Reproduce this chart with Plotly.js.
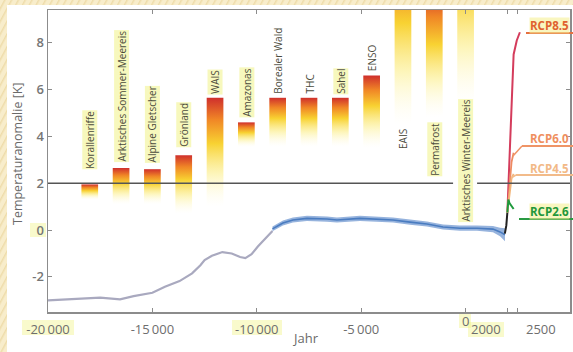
<!DOCTYPE html>
<html><head><meta charset="utf-8">
<script src="https://cdn.plot.ly/plotly-3.0.1.min.js"></script>
<style>
html,body{margin:0;padding:0;width:573px;height:352px;overflow:hidden;
background:repeating-linear-gradient(118deg,#f8edcb 0px,#f8edcb 3px,#eedcaa 4px,#f8edcb 6px);}
#chart{position:absolute;left:7px;top:5px;width:566px;height:347px;}
</style></head><body><div id="chart"></div>
<script>
// ---------- data ----------
const tipNames = ["Korallenriffe","Arktisches Sommer-Meereis","Alpine Gletscher","Grönland","WAIS","Amazonas","Borealer Wald","THC","Sahel","ENSO","EAIS","Permafrost","Arktisches Winter-Meereis"];
const tipYears = [-18000,-16500,-15000,-13500,-12000,-10500,-9000,-7500,-6000,-4500,-3000,-1500,0];
const tipLow   = [1.3,1.1,1.1,0.7,1.0,3.55,3.55,3.55,3.55,3.5,4.5,4.8,5.3];
const tipHigh  = [1.95,2.65,2.6,3.2,5.65,4.6,5.65,5.65,5.65,6.6,10,10,10];

const shakunYears = [-20000,-17500,-16550,-15900,-15000,-14400,-13700,-13100,-12700,-12500,-12150,-11650,-11200,-10800,-10550,-10250,-9950,-9600,-9250];
const shakunTemp  = [-3.0,-2.89,-2.96,-2.82,-2.68,-2.42,-2.18,-1.85,-1.5,-1.28,-1.1,-0.94,-1.0,-1.15,-1.2,-1.03,-0.7,-0.38,-0.04];

const marcottYears = [-9250,-8750,-8270,-7600,-6640,-6160,-5060,-4240,-3480,-2660,-1850,-1080,-270,545,1310,1650,1885];
const marcottTemp  = [0.05,0.3,0.43,0.5,0.47,0.43,0.5,0.47,0.43,0.34,0.26,0.13,0.08,0.08,0.04,-0.08,-0.2];
const marcottUnc   = [0.1,0.11,0.11,0.11,0.11,0.11,0.11,0.11,0.11,0.11,0.11,0.11,0.11,0.11,0.13,0.18,0.28];

const instrYears = [1880,1950,2000];
const instrTemp  = [-0.15,0.2,0.75];

const rcp26Years = [2000,2050,2100,2200,2300];
const rcp26Temp  = [0.75,1.3,1.15,1.0,0.9];
const rcp45Years = [2000,2100,2200,2300];
const rcp45Temp  = [0.75,1.6,2.2,2.4];
const rcp60Years = [2000,2100,2200,2300];
const rcp60Temp  = [0.75,2.0,2.9,3.3];
const rcp85Years = [2000,2100,2200,2300,2450,2600];
const rcp85Temp  = [0.75,3.0,5.5,7.5,8.1,8.45];

const targetLine = 2;
const xTickVals = [-20000,-15000,-10000,-5000,0,2000,2500];
const xTickText = ["-20\u2009000","-15\u2009000","-10\u2009000","-5\u2009000","","",""];
const yTickVals = [-2,0,2,4,6,8];

// ---------- styles / positions ----------
const barWidth = 800;
const gradTop = [null,null,null,null,null,null,null,null,null,null,12,10.2,13.5];
const labelBottomPx = [170,163,163,148,95,118,95,95,95,72,150,177,223];
const labelGlow = [true,true,true,true,true,true,false,false,true,false,false,true,true];
const PL=48, PR=570, PT=10, PB=312;
const px = v => (v-PL)/(PR-PL);
const py = v => (PB-v)/(PB-PT);
const scale = [[0,'rgba(255,252,225,0)'],[0.3,'rgba(252,240,150,0.65)'],[0.58,'#f8d232'],[0.8,'#f08626'],[1,'#cf2f2c']];
const tickFont = {family:'Open Sans',size:13,color:'#6e6e6e'};

const traces = [];
tipYears.forEach((c,i)=>{
  const lo = tipLow[i], hi = tipHigh[i];
  traces.push({type:'scatter',mode:'lines',
    x:[c-barWidth/2,c+barWidth/2,c+barWidth/2,c-barWidth/2,c-barWidth/2],
    y:[lo,lo,hi,hi,lo],
    line:{width:0,color:'rgba(0,0,0,0)'},fill:'toself',
    fillgradient:{type:'vertical',colorscale:scale,start:lo,stop:(gradTop[i]===null?hi:gradTop[i])},
    hoverinfo:'skip'});
});
traces.push({type:'scatter',mode:'lines',x:shakunYears,y:shakunTemp,line:{color:'#a9a9bf',width:2.2}});
traces.push({type:'scatter',mode:'lines',x:marcottYears,y:marcottTemp.map((v,i)=>v-marcottUnc[i]),line:{width:0,color:'rgba(0,0,0,0)'}});
traces.push({type:'scatter',mode:'lines',x:marcottYears,y:marcottTemp.map((v,i)=>v+marcottUnc[i]),line:{width:0,color:'rgba(0,0,0,0)'},fill:'tonexty',fillcolor:'rgba(115,154,210,0.75)'});
traces.push({type:'scatter',mode:'lines',x:marcottYears,y:marcottTemp,line:{color:'#4a7cc0',width:1.6}});
traces.push({type:'scatter',mode:'lines',x:instrYears,y:instrTemp,line:{color:'#222222',width:2}});
traces.push({type:'scatter',mode:'lines',x:rcp85Years,y:rcp85Temp,line:{color:'#d43c5c',width:2}});
traces.push({type:'scatter',mode:'lines',x:rcp60Years,y:rcp60Temp,line:{color:'#ee8a62',width:1.8}});
traces.push({type:'scatter',mode:'lines',x:rcp45Years,y:rcp45Temp,line:{color:'#f2b57a',width:1.8}});
traces.push({type:'scatter',mode:'lines',x:rcp26Years,y:rcp26Temp,line:{color:'#1f9a3d',width:2}});

const ann = [];
tipNames.forEach((n,i)=>{
  ann.push({text:n,x:tipYears[i],xref:'x',y:py(labelBottomPx[i]),yref:'paper',
    textangle:-90,xanchor:'center',yanchor:'bottom',showarrow:false,
    font:{family:'Open Sans',size:10,color:'#4b4b3c'},
    bgcolor:labelGlow[i]?'rgba(240,243,135,0.55)':'rgba(0,0,0,0)',borderpad:0});
});
const rcpLab = [
  {t:'RCP8.5',y:25,c:'#e0622f',g:true},
  {t:'RCP6.0',y:138,c:'#ef8f60',g:false},
  {t:'RCP4.5',y:168,c:'#f2b987',g:false},
  {t:'RCP2.6',y:211,c:'#22973a',g:true}];
rcpLab.forEach(r=>ann.push({text:'<b>'+r.t+'</b>',x:px(549),y:py(r.y),xref:'paper',yref:'paper',
  showarrow:false,xanchor:'center',yanchor:'middle',font:{family:'Open Sans',size:11.5,color:r.c},
  bgcolor:r.g?'rgba(245,240,150,0.6)':'rgba(0,0,0,0)',borderpad:0}));
const extraX = [{t:'0',x:465,y:321},{t:'2000',x:486,y:329},{t:'2500',x:541,y:329}];
extraX.forEach(e=>ann.push({text:e.t,x:px(e.x),y:py(e.y),xref:'paper',yref:'paper',showarrow:false,xanchor:'center',yanchor:'middle',font:tickFont}));
ann.push({text:'Temperaturanomalie [K]',x:px(17),y:py(154),xref:'paper',yref:'paper',showarrow:false,textangle:-90,xanchor:'center',yanchor:'middle',font:{family:'Open Sans',size:12.5,color:'#6a6a6a'}});
ann.push({text:'Jahr',x:px(305),y:py(338),xref:'paper',yref:'paper',showarrow:false,xanchor:'center',yanchor:'middle',font:{family:'Open Sans',size:13,color:'#6a6a6a'}});

const shapes = [
  {type:'line',xref:'x',yref:'y',x0:-20000,x1:-600,y0:targetLine,y1:targetLine,line:{color:'#555555',width:1.5}},
  {type:'line',xref:'x',yref:'y',x0:550,x1:5000,y0:targetLine,y1:targetLine,line:{color:'#555555',width:1.5}},
  {type:'line',xref:'paper',yref:'paper',x0:px(526),x1:px(573),y0:py(33),y1:py(33),line:{color:'#e57040',width:2}},
  {type:'line',xref:'paper',yref:'paper',x0:px(522),x1:px(573),y0:py(146),y1:py(146),line:{color:'#ef9466',width:2}},
  {type:'line',xref:'paper',yref:'paper',x0:px(513),x1:px(522),y0:py(156),y1:py(146),line:{color:'#ef9466',width:1.5}},
  {type:'line',xref:'paper',yref:'paper',x0:px(516),x1:px(573),y0:py(175),y1:py(175),line:{color:'#f2bb8a',width:2}},
  {type:'line',xref:'paper',yref:'paper',x0:px(511),x1:px(516),y0:py(178),y1:py(175),line:{color:'#f2bb8a',width:1.5}},
  {type:'line',xref:'paper',yref:'paper',x0:px(519),x1:px(573),y0:py(219),y1:py(219),line:{color:'#2a9a42',width:2}},
];
[[22,74,320,335],[232,282,320,335],[459,471,314,328],[468,504,322,337],[30,46,223,237]].forEach(r=>shapes.push(
  {type:'rect',xref:'paper',yref:'paper',x0:px(r[0]),x1:px(r[1]),y0:py(r[3]),y1:py(r[2]),fillcolor:'rgba(238,240,110,0.35)',line:{width:0},layer:'below'}));

const axCommon = {showline:true,linecolor:'#8c8c8c',linewidth:1.5,mirror:'ticks',ticks:'inside',ticklen:4,tickcolor:'#8c8c8c',
  showgrid:false,zeroline:false,tickfont:tickFont};
const layout = {
  width:566,height:347,margin:{l:PL-7,r:573-PR,t:PT-5,b:347-(PB-5)},
  paper_bgcolor:'#ffffff',plot_bgcolor:'#ffffff',showlegend:false,hovermode:false,
  xaxis:Object.assign({},axCommon,{range:[-20000,5000],tickmode:'array',tickvals:xTickVals,ticktext:xTickText,ticklabelstandoff:5}),
  yaxis:Object.assign({},axCommon,{range:[-3.5,9.4],tickmode:'array',tickvals:yTickVals,ticktext:yTickVals.map(String),tickfont:{family:'Open Sans',size:13,color:'#767676',weight:600}}),
  annotations:ann,shapes:shapes
};
Plotly.newPlot('chart',traces,layout,{displayModeBar:false,staticPlot:true});
</script></body></html>
